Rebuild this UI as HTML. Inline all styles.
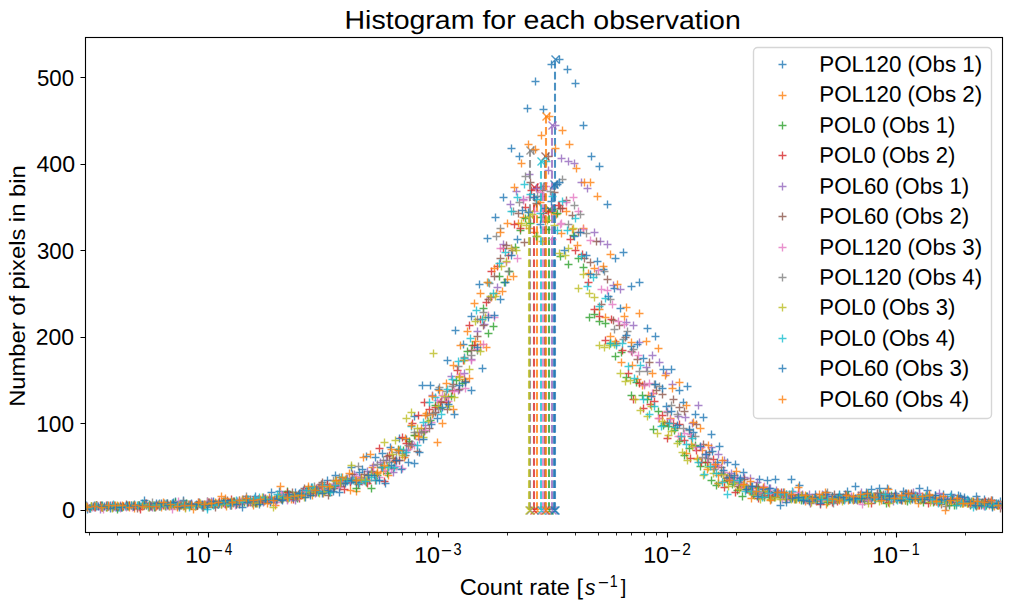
<!DOCTYPE html>
<html><head><meta charset="utf-8"><title>Histogram for each observation</title>
<style>html,body{margin:0;padding:0;background:#fff}svg{display:block}text{fill:#000}</style></head>
<body>
<svg width="1011" height="611" viewBox="0 0 1011 611">
<rect width="1011" height="611" fill="#fff"/>
<defs><clipPath id="ax"><rect x="85.03" y="37.33" width="916.64" height="495.66"/></clipPath></defs>
<g clip-path="url(#ax)" fill="none" stroke-opacity="0.8">
<path d="M82.5 505.5h8m-4-4v8M90.5 505.5h8m-4-4v8M98.5 505.5h8m-4-4v8M106.5 505.5h8m-4-4v8M114.5 507.5h8m-4-4v8M122.5 505.5h8m-4-4v8M130.5 504.5h8m-4-4v8M138.5 505.5h8m-4-4v8M146.5 505.5h8m-4-4v8M155.5 503.5h8m-4-4v8M163.5 503.5h8m-4-4v8M171.5 501.5h8m-4-4v8M179.5 500.5h8m-4-4v8M187.5 503.5h8m-4-4v8M195.5 502.5h8m-4-4v8M203.5 507.5h8m-4-4v8M211.5 503.5h8m-4-4v8M219.5 501.5h8m-4-4v8M227.5 505.5h8m-4-4v8M235.5 500.5h8m-4-4v8M243.5 499.5h8m-4-4v8M251.5 496.5h8m-4-4v8M259.5 497.5h8m-4-4v8M267.5 492.5h8m-4-4v8M275.5 491.5h8m-4-4v8M283.5 499.5h8m-4-4v8M291.5 492.5h8m-4-4v8M299.5 490.5h8m-4-4v8M307.5 487.5h8m-4-4v8M315.5 487.5h8m-4-4v8M323.5 480.5h8m-4-4v8M331.5 475.5h8m-4-4v8M339.5 483.5h8m-4-4v8M347.5 467.5h8m-4-4v8M355.5 472.5h8m-4-4v8M362.5 456.5h8m-4-4v8M371.5 457.5h8m-4-4v8M378.5 453.5h8m-4-4v8M386.5 447.5h8m-4-4v8M395.5 438.5h8m-4-4v8M402.5 439.5h8m-4-4v8M410.5 416.5h8m-4-4v8M418.5 385.5h8m-4-4v8M426.5 385.5h8m-4-4v8M434.5 389.5h8m-4-4v8M443.5 360.5h8m-4-4v8M451.5 330.5h8m-4-4v8M459.5 344.5h8m-4-4v8M467.5 316.5h8m-4-4v8M475.5 284.5h8m-4-4v8M483.5 238.5h8m-4-4v8M491.5 217.5h8m-4-4v8M499.5 197.5h8m-4-4v8M507.5 148.5h8m-4-4v8M515.5 156.5h8m-4-4v8M523.5 108.5h8m-4-4v8M531.5 81.5h8m-4-4v8M539.5 109.5h8m-4-4v8M547.5 64.5h8m-4-4v8M555.5 59.5h8m-4-4v8M563.5 69.5h8m-4-4v8M571.5 83.5h8m-4-4v8M579.5 125.5h8m-4-4v8M587.5 156.5h8m-4-4v8M595.5 166.5h8m-4-4v8M603.5 204.5h8m-4-4v8M611.5 258.5h8m-4-4v8M619.5 252.5h8m-4-4v8M627.5 286.5h8m-4-4v8M635.5 282.5h8m-4-4v8M643.5 328.5h8m-4-4v8M651.5 336.5h8m-4-4v8M659.5 369.5h8m-4-4v8M667.5 369.5h8m-4-4v8M675.5 390.5h8m-4-4v8M683.5 386.5h8m-4-4v8M691.5 414.5h8m-4-4v8M699.5 417.5h8m-4-4v8M707.5 434.5h8m-4-4v8M715.5 446.5h8m-4-4v8M723.5 462.5h8m-4-4v8M731.5 464.5h8m-4-4v8M739.5 472.5h8m-4-4v8M747.5 486.5h8m-4-4v8M755.5 479.5h8m-4-4v8M763.5 480.5h8m-4-4v8M771.5 479.5h8m-4-4v8M779.5 492.5h8m-4-4v8M787.5 479.5h8m-4-4v8M795.5 485.5h8m-4-4v8M803.5 496.5h8m-4-4v8M811.5 494.5h8m-4-4v8M819.5 495.5h8m-4-4v8M827.5 499.5h8m-4-4v8M835.5 494.5h8m-4-4v8M843.5 491.5h8m-4-4v8M851.5 486.5h8m-4-4v8M859.5 498.5h8m-4-4v8M867.5 489.5h8m-4-4v8M875.5 488.5h8m-4-4v8M883.5 488.5h8m-4-4v8M891.5 493.5h8m-4-4v8M899.5 491.5h8m-4-4v8M907.5 494.5h8m-4-4v8M915.5 488.5h8m-4-4v8M923.5 490.5h8m-4-4v8M931.5 495.5h8m-4-4v8M939.5 494.5h8m-4-4v8M947.5 494.5h8m-4-4v8M956.5 496.5h8m-4-4v8M964.5 500.5h8m-4-4v8M972.5 496.5h8m-4-4v8M980.5 499.5h8m-4-4v8M988.5 500.5h8m-4-4v8M996.5 501.5h8m-4-4v8" stroke="#1f77b4" stroke-width="1.39"/>
<path d="M555.0 510.00V59.00" stroke="#1f77b4" stroke-width="2.08" stroke-dasharray="7.71 3.33"/>
<path d="M551.5 506.5l8 8m0-8l-8 8M551.5 55.5l8 8m0-8l-8 8" stroke="#1f77b4" stroke-width="1.39"/>
<path d="M76.5 508.5h8m-4-4v8M81.5 507.5h8m-4-4v8M87.5 506.5h8m-4-4v8M92.5 505.5h8m-4-4v8M97.5 506.5h8m-4-4v8M103.5 507.5h8m-4-4v8M108.5 507.5h8m-4-4v8M114.5 506.5h8m-4-4v8M119.5 506.5h8m-4-4v8M125.5 505.5h8m-4-4v8M130.5 508.5h8m-4-4v8M135.5 507.5h8m-4-4v8M141.5 503.5h8m-4-4v8M146.5 505.5h8m-4-4v8M152.5 505.5h8m-4-4v8M157.5 507.5h8m-4-4v8M162.5 504.5h8m-4-4v8M168.5 504.5h8m-4-4v8M173.5 507.5h8m-4-4v8M179.5 506.5h8m-4-4v8M184.5 504.5h8m-4-4v8M189.5 509.5h8m-4-4v8M195.5 503.5h8m-4-4v8M200.5 505.5h8m-4-4v8M206.5 503.5h8m-4-4v8M211.5 502.5h8m-4-4v8M217.5 496.5h8m-4-4v8M222.5 506.5h8m-4-4v8M227.5 505.5h8m-4-4v8M233.5 503.5h8m-4-4v8M238.5 499.5h8m-4-4v8M244.5 501.5h8m-4-4v8M249.5 505.5h8m-4-4v8M254.5 499.5h8m-4-4v8M260.5 501.5h8m-4-4v8M265.5 497.5h8m-4-4v8M271.5 505.5h8m-4-4v8M276.5 496.5h8m-4-4v8M281.5 494.5h8m-4-4v8M287.5 499.5h8m-4-4v8M292.5 495.5h8m-4-4v8M298.5 493.5h8m-4-4v8M303.5 493.5h8m-4-4v8M308.5 495.5h8m-4-4v8M314.5 488.5h8m-4-4v8M319.5 493.5h8m-4-4v8M325.5 488.5h8m-4-4v8M330.5 485.5h8m-4-4v8M336.5 483.5h8m-4-4v8M341.5 480.5h8m-4-4v8M346.5 490.5h8m-4-4v8M352.5 491.5h8m-4-4v8M357.5 477.5h8m-4-4v8M363.5 475.5h8m-4-4v8M368.5 467.5h8m-4-4v8M373.5 473.5h8m-4-4v8M379.5 471.5h8m-4-4v8M384.5 475.5h8m-4-4v8M390.5 461.5h8m-4-4v8M395.5 450.5h8m-4-4v8M400.5 457.5h8m-4-4v8M406.5 446.5h8m-4-4v8M411.5 435.5h8m-4-4v8M417.5 428.5h8m-4-4v8M422.5 413.5h8m-4-4v8M428.5 414.5h8m-4-4v8M433.5 442.5h8m-4-4v8M438.5 423.5h8m-4-4v8M444.5 397.5h8m-4-4v8M449.5 409.5h8m-4-4v8M455.5 376.5h8m-4-4v8M460.5 379.5h8m-4-4v8M465.5 378.5h8m-4-4v8M471.5 341.5h8m-4-4v8M476.5 344.5h8m-4-4v8M482.5 347.5h8m-4-4v8M487.5 297.5h8m-4-4v8M492.5 293.5h8m-4-4v8M498.5 291.5h8m-4-4v8M503.5 279.5h8m-4-4v8M509.5 276.5h8m-4-4v8M514.5 223.5h8m-4-4v8M519.5 217.5h8m-4-4v8M525.5 228.5h8m-4-4v8M530.5 232.5h8m-4-4v8M536.5 202.5h8m-4-4v8M541.5 221.5h8m-4-4v8M547.5 212.5h8m-4-4v8M552.5 214.5h8m-4-4v8M557.5 233.5h8m-4-4v8M562.5 211.5h8m-4-4v8M568.5 229.5h8m-4-4v8M573.5 245.5h8m-4-4v8M579.5 228.5h8m-4-4v8M584.5 273.5h8m-4-4v8M590.5 268.5h8m-4-4v8M595.5 309.5h8m-4-4v8M601.5 317.5h8m-4-4v8M606.5 336.5h8m-4-4v8M611.5 341.5h8m-4-4v8M617.5 362.5h8m-4-4v8M622.5 307.5h8m-4-4v8M628.5 365.5h8m-4-4v8M633.5 379.5h8m-4-4v8M638.5 385.5h8m-4-4v8M644.5 395.5h8m-4-4v8M649.5 393.5h8m-4-4v8M655.5 418.5h8m-4-4v8M660.5 423.5h8m-4-4v8M666.5 418.5h8m-4-4v8M671.5 428.5h8m-4-4v8M676.5 436.5h8m-4-4v8M682.5 453.5h8m-4-4v8M687.5 444.5h8m-4-4v8M693.5 458.5h8m-4-4v8M698.5 450.5h8m-4-4v8M703.5 469.5h8m-4-4v8M709.5 467.5h8m-4-4v8M714.5 475.5h8m-4-4v8M720.5 481.5h8m-4-4v8M725.5 475.5h8m-4-4v8M730.5 477.5h8m-4-4v8M736.5 487.5h8m-4-4v8M741.5 489.5h8m-4-4v8M747.5 498.5h8m-4-4v8M752.5 488.5h8m-4-4v8M758.5 493.5h8m-4-4v8M763.5 491.5h8m-4-4v8M768.5 496.5h8m-4-4v8M774.5 492.5h8m-4-4v8M779.5 495.5h8m-4-4v8M785.5 495.5h8m-4-4v8M790.5 499.5h8m-4-4v8M795.5 499.5h8m-4-4v8M801.5 501.5h8m-4-4v8M806.5 499.5h8m-4-4v8M812.5 501.5h8m-4-4v8M817.5 498.5h8m-4-4v8M822.5 504.5h8m-4-4v8M828.5 496.5h8m-4-4v8M833.5 498.5h8m-4-4v8M839.5 499.5h8m-4-4v8M844.5 500.5h8m-4-4v8M849.5 500.5h8m-4-4v8M855.5 499.5h8m-4-4v8M860.5 496.5h8m-4-4v8M866.5 497.5h8m-4-4v8M871.5 497.5h8m-4-4v8M877.5 495.5h8m-4-4v8M882.5 496.5h8m-4-4v8M887.5 496.5h8m-4-4v8M893.5 498.5h8m-4-4v8M898.5 500.5h8m-4-4v8M904.5 494.5h8m-4-4v8M909.5 495.5h8m-4-4v8M914.5 503.5h8m-4-4v8M920.5 499.5h8m-4-4v8M925.5 494.5h8m-4-4v8M931.5 497.5h8m-4-4v8M936.5 498.5h8m-4-4v8M941.5 510.5h8m-4-4v8M947.5 502.5h8m-4-4v8M952.5 504.5h8m-4-4v8M958.5 503.5h8m-4-4v8M963.5 503.5h8m-4-4v8M969.5 501.5h8m-4-4v8M974.5 505.5h8m-4-4v8M979.5 504.5h8m-4-4v8M985.5 505.5h8m-4-4v8M990.5 506.5h8m-4-4v8M996.5 504.5h8m-4-4v8M1001.5 503.5h8m-4-4v8" stroke="#ff7f0e" stroke-width="1.39"/>
<path d="M537.0 510.00V202.00" stroke="#ff7f0e" stroke-width="2.08" stroke-dasharray="7.71 3.33"/>
<path d="M533.5 506.5l8 8m0-8l-8 8M533.5 198.5l8 8m0-8l-8 8" stroke="#ff7f0e" stroke-width="1.39"/>
<path d="M76.5 506.5h8m-4-4v8M81.5 507.5h8m-4-4v8M87.5 506.5h8m-4-4v8M92.5 505.5h8m-4-4v8M97.5 505.5h8m-4-4v8M102.5 507.5h8m-4-4v8M108.5 507.5h8m-4-4v8M113.5 509.5h8m-4-4v8M118.5 507.5h8m-4-4v8M124.5 506.5h8m-4-4v8M129.5 506.5h8m-4-4v8M134.5 505.5h8m-4-4v8M140.5 505.5h8m-4-4v8M145.5 504.5h8m-4-4v8M150.5 507.5h8m-4-4v8M155.5 506.5h8m-4-4v8M161.5 506.5h8m-4-4v8M166.5 504.5h8m-4-4v8M171.5 502.5h8m-4-4v8M177.5 505.5h8m-4-4v8M182.5 503.5h8m-4-4v8M187.5 505.5h8m-4-4v8M193.5 505.5h8m-4-4v8M198.5 505.5h8m-4-4v8M203.5 501.5h8m-4-4v8M208.5 504.5h8m-4-4v8M214.5 504.5h8m-4-4v8M219.5 502.5h8m-4-4v8M224.5 503.5h8m-4-4v8M230.5 501.5h8m-4-4v8M235.5 503.5h8m-4-4v8M240.5 502.5h8m-4-4v8M246.5 501.5h8m-4-4v8M251.5 503.5h8m-4-4v8M256.5 502.5h8m-4-4v8M261.5 499.5h8m-4-4v8M267.5 499.5h8m-4-4v8M272.5 500.5h8m-4-4v8M277.5 499.5h8m-4-4v8M283.5 491.5h8m-4-4v8M288.5 497.5h8m-4-4v8M293.5 498.5h8m-4-4v8M299.5 493.5h8m-4-4v8M304.5 488.5h8m-4-4v8M309.5 492.5h8m-4-4v8M314.5 492.5h8m-4-4v8M320.5 491.5h8m-4-4v8M325.5 492.5h8m-4-4v8M330.5 486.5h8m-4-4v8M336.5 480.5h8m-4-4v8M341.5 481.5h8m-4-4v8M346.5 481.5h8m-4-4v8M352.5 488.5h8m-4-4v8M357.5 480.5h8m-4-4v8M362.5 482.5h8m-4-4v8M367.5 488.5h8m-4-4v8M373.5 475.5h8m-4-4v8M378.5 467.5h8m-4-4v8M383.5 473.5h8m-4-4v8M389.5 468.5h8m-4-4v8M394.5 449.5h8m-4-4v8M399.5 450.5h8m-4-4v8M405.5 441.5h8m-4-4v8M410.5 435.5h8m-4-4v8M415.5 432.5h8m-4-4v8M420.5 431.5h8m-4-4v8M426.5 420.5h8m-4-4v8M431.5 405.5h8m-4-4v8M436.5 408.5h8m-4-4v8M442.5 402.5h8m-4-4v8M447.5 396.5h8m-4-4v8M452.5 380.5h8m-4-4v8M458.5 383.5h8m-4-4v8M463.5 351.5h8m-4-4v8M468.5 345.5h8m-4-4v8M473.5 350.5h8m-4-4v8M479.5 308.5h8m-4-4v8M484.5 333.5h8m-4-4v8M489.5 326.5h8m-4-4v8M495.5 276.5h8m-4-4v8M500.5 282.5h8m-4-4v8M505.5 271.5h8m-4-4v8M511.5 247.5h8m-4-4v8M516.5 230.5h8m-4-4v8M521.5 218.5h8m-4-4v8M526.5 223.5h8m-4-4v8M532.5 236.5h8m-4-4v8M537.5 217.5h8m-4-4v8M542.5 229.5h8m-4-4v8M548.5 209.5h8m-4-4v8M553.5 213.5h8m-4-4v8M556.5 256.5h8m-4-4v8M564.5 264.5h8m-4-4v8M569.5 235.5h8m-4-4v8M574.5 258.5h8m-4-4v8M579.5 267.5h8m-4-4v8M585.5 317.5h8m-4-4v8M590.5 314.5h8m-4-4v8M595.5 321.5h8m-4-4v8M601.5 323.5h8m-4-4v8M606.5 343.5h8m-4-4v8M611.5 356.5h8m-4-4v8M617.5 352.5h8m-4-4v8M622.5 377.5h8m-4-4v8M627.5 395.5h8m-4-4v8M632.5 382.5h8m-4-4v8M638.5 395.5h8m-4-4v8M643.5 399.5h8m-4-4v8M649.5 429.5h8m-4-4v8M654.5 411.5h8m-4-4v8M659.5 425.5h8m-4-4v8M664.5 426.5h8m-4-4v8M670.5 430.5h8m-4-4v8M675.5 441.5h8m-4-4v8M680.5 455.5h8m-4-4v8M685.5 448.5h8m-4-4v8M691.5 445.5h8m-4-4v8M696.5 466.5h8m-4-4v8M701.5 462.5h8m-4-4v8M707.5 480.5h8m-4-4v8M712.5 485.5h8m-4-4v8M717.5 473.5h8m-4-4v8M723.5 480.5h8m-4-4v8M728.5 484.5h8m-4-4v8M733.5 490.5h8m-4-4v8M738.5 496.5h8m-4-4v8M744.5 488.5h8m-4-4v8M749.5 494.5h8m-4-4v8M754.5 487.5h8m-4-4v8M760.5 497.5h8m-4-4v8M765.5 497.5h8m-4-4v8M770.5 497.5h8m-4-4v8M776.5 497.5h8m-4-4v8M781.5 496.5h8m-4-4v8M786.5 498.5h8m-4-4v8M791.5 499.5h8m-4-4v8M797.5 500.5h8m-4-4v8M802.5 496.5h8m-4-4v8M807.5 499.5h8m-4-4v8M813.5 500.5h8m-4-4v8M818.5 499.5h8m-4-4v8M823.5 502.5h8m-4-4v8M829.5 500.5h8m-4-4v8M834.5 499.5h8m-4-4v8M839.5 499.5h8m-4-4v8M844.5 495.5h8m-4-4v8M850.5 499.5h8m-4-4v8M855.5 498.5h8m-4-4v8M860.5 501.5h8m-4-4v8M866.5 495.5h8m-4-4v8M871.5 499.5h8m-4-4v8M876.5 493.5h8m-4-4v8M882.5 503.5h8m-4-4v8M887.5 495.5h8m-4-4v8M892.5 499.5h8m-4-4v8M897.5 499.5h8m-4-4v8M903.5 501.5h8m-4-4v8M908.5 497.5h8m-4-4v8M913.5 496.5h8m-4-4v8M919.5 502.5h8m-4-4v8M924.5 499.5h8m-4-4v8M929.5 502.5h8m-4-4v8M935.5 500.5h8m-4-4v8M940.5 500.5h8m-4-4v8M945.5 505.5h8m-4-4v8M950.5 505.5h8m-4-4v8M956.5 503.5h8m-4-4v8M961.5 502.5h8m-4-4v8M966.5 505.5h8m-4-4v8M972.5 504.5h8m-4-4v8M977.5 503.5h8m-4-4v8M982.5 505.5h8m-4-4v8M988.5 506.5h8m-4-4v8M993.5 505.5h8m-4-4v8M998.5 504.5h8m-4-4v8M1003.5 505.5h8m-4-4v8" stroke="#2ca02c" stroke-width="1.39"/>
<path d="M549.0 510.00V209.00" stroke="#2ca02c" stroke-width="2.08" stroke-dasharray="7.71 3.33"/>
<path d="M545.5 506.5l8 8m0-8l-8 8M545.5 205.5l8 8m0-8l-8 8" stroke="#2ca02c" stroke-width="1.39"/>
<path d="M79.5 507.5h8m-4-4v8M85.5 508.5h8m-4-4v8M91.5 507.5h8m-4-4v8M96.5 505.5h8m-4-4v8M102.5 505.5h8m-4-4v8M108.5 505.5h8m-4-4v8M113.5 506.5h8m-4-4v8M119.5 506.5h8m-4-4v8M125.5 505.5h8m-4-4v8M130.5 506.5h8m-4-4v8M136.5 509.5h8m-4-4v8M142.5 503.5h8m-4-4v8M147.5 506.5h8m-4-4v8M153.5 505.5h8m-4-4v8M159.5 505.5h8m-4-4v8M164.5 505.5h8m-4-4v8M170.5 505.5h8m-4-4v8M176.5 505.5h8m-4-4v8M181.5 507.5h8m-4-4v8M187.5 504.5h8m-4-4v8M193.5 505.5h8m-4-4v8M198.5 505.5h8m-4-4v8M204.5 502.5h8m-4-4v8M210.5 504.5h8m-4-4v8M215.5 501.5h8m-4-4v8M221.5 504.5h8m-4-4v8M227.5 499.5h8m-4-4v8M232.5 504.5h8m-4-4v8M238.5 503.5h8m-4-4v8M244.5 502.5h8m-4-4v8M249.5 500.5h8m-4-4v8M255.5 502.5h8m-4-4v8M261.5 498.5h8m-4-4v8M266.5 500.5h8m-4-4v8M272.5 498.5h8m-4-4v8M278.5 499.5h8m-4-4v8M283.5 492.5h8m-4-4v8M289.5 499.5h8m-4-4v8M295.5 498.5h8m-4-4v8M300.5 490.5h8m-4-4v8M306.5 492.5h8m-4-4v8M312.5 488.5h8m-4-4v8M317.5 484.5h8m-4-4v8M323.5 484.5h8m-4-4v8M329.5 488.5h8m-4-4v8M334.5 483.5h8m-4-4v8M340.5 489.5h8m-4-4v8M346.5 482.5h8m-4-4v8M351.5 480.5h8m-4-4v8M357.5 480.5h8m-4-4v8M363.5 483.5h8m-4-4v8M368.5 472.5h8m-4-4v8M375.5 448.5h8m-4-4v8M380.5 481.5h8m-4-4v8M385.5 455.5h8m-4-4v8M391.5 460.5h8m-4-4v8M398.5 437.5h8m-4-4v8M402.5 443.5h8m-4-4v8M408.5 423.5h8m-4-4v8M414.5 415.5h8m-4-4v8M420.5 402.5h8m-4-4v8M425.5 409.5h8m-4-4v8M431.5 407.5h8m-4-4v8M436.5 402.5h8m-4-4v8M442.5 402.5h8m-4-4v8M448.5 390.5h8m-4-4v8M453.5 370.5h8m-4-4v8M459.5 360.5h8m-4-4v8M465.5 325.5h8m-4-4v8M470.5 345.5h8m-4-4v8M476.5 319.5h8m-4-4v8M482.5 302.5h8m-4-4v8M487.5 271.5h8m-4-4v8M493.5 266.5h8m-4-4v8M499.5 248.5h8m-4-4v8M504.5 255.5h8m-4-4v8M510.5 224.5h8m-4-4v8M516.5 228.5h8m-4-4v8M521.5 207.5h8m-4-4v8M527.5 190.5h8m-4-4v8M533.5 187.5h8m-4-4v8M539.5 213.5h8m-4-4v8M544.5 211.5h8m-4-4v8M555.5 205.5h8m-4-4v8M554.5 205.5h8m-4-4v8M558.5 208.5h8m-4-4v8M566.5 239.5h8m-4-4v8M571.5 250.5h8m-4-4v8M578.5 254.5h8m-4-4v8M584.5 282.5h8m-4-4v8M590.5 309.5h8m-4-4v8M595.5 316.5h8m-4-4v8M601.5 340.5h8m-4-4v8M607.5 319.5h8m-4-4v8M612.5 343.5h8m-4-4v8M618.5 350.5h8m-4-4v8M624.5 373.5h8m-4-4v8M629.5 399.5h8m-4-4v8M635.5 383.5h8m-4-4v8M639.5 408.5h8m-4-4v8M646.5 404.5h8m-4-4v8M650.5 401.5h8m-4-4v8M658.5 415.5h8m-4-4v8M663.5 438.5h8m-4-4v8M669.5 423.5h8m-4-4v8M675.5 424.5h8m-4-4v8M680.5 440.5h8m-4-4v8M686.5 458.5h8m-4-4v8M692.5 450.5h8m-4-4v8M697.5 462.5h8m-4-4v8M703.5 462.5h8m-4-4v8M709.5 459.5h8m-4-4v8M714.5 483.5h8m-4-4v8M720.5 487.5h8m-4-4v8M726.5 478.5h8m-4-4v8M731.5 492.5h8m-4-4v8M737.5 484.5h8m-4-4v8M743.5 489.5h8m-4-4v8M748.5 493.5h8m-4-4v8M754.5 498.5h8m-4-4v8M760.5 495.5h8m-4-4v8M765.5 495.5h8m-4-4v8M771.5 494.5h8m-4-4v8M777.5 492.5h8m-4-4v8M782.5 499.5h8m-4-4v8M788.5 495.5h8m-4-4v8M794.5 495.5h8m-4-4v8M799.5 499.5h8m-4-4v8M805.5 500.5h8m-4-4v8M811.5 497.5h8m-4-4v8M816.5 504.5h8m-4-4v8M822.5 498.5h8m-4-4v8M828.5 502.5h8m-4-4v8M833.5 501.5h8m-4-4v8M839.5 499.5h8m-4-4v8M845.5 499.5h8m-4-4v8M850.5 499.5h8m-4-4v8M856.5 499.5h8m-4-4v8M862.5 494.5h8m-4-4v8M867.5 503.5h8m-4-4v8M873.5 493.5h8m-4-4v8M879.5 495.5h8m-4-4v8M884.5 502.5h8m-4-4v8M890.5 496.5h8m-4-4v8M896.5 499.5h8m-4-4v8M901.5 500.5h8m-4-4v8M907.5 498.5h8m-4-4v8M913.5 497.5h8m-4-4v8M918.5 498.5h8m-4-4v8M924.5 503.5h8m-4-4v8M930.5 501.5h8m-4-4v8M935.5 502.5h8m-4-4v8M941.5 499.5h8m-4-4v8M947.5 499.5h8m-4-4v8M952.5 502.5h8m-4-4v8M958.5 500.5h8m-4-4v8M964.5 503.5h8m-4-4v8M969.5 502.5h8m-4-4v8M975.5 505.5h8m-4-4v8M981.5 501.5h8m-4-4v8M986.5 502.5h8m-4-4v8M992.5 504.5h8m-4-4v8M998.5 507.5h8m-4-4v8M1003.5 504.5h8m-4-4v8" stroke="#d62728" stroke-width="1.39"/>
<path d="M534.0 510.00V187.00" stroke="#d62728" stroke-width="2.08" stroke-dasharray="7.71 3.33"/>
<path d="M530.5 506.5l8 8m0-8l-8 8M530.5 183.5l8 8m0-8l-8 8" stroke="#d62728" stroke-width="1.39"/>
<path d="M77.5 506.5h8m-4-4v8M83.5 506.5h8m-4-4v8M90.5 507.5h8m-4-4v8M96.5 509.5h8m-4-4v8M103.5 505.5h8m-4-4v8M109.5 507.5h8m-4-4v8M116.5 505.5h8m-4-4v8M122.5 506.5h8m-4-4v8M129.5 506.5h8m-4-4v8M135.5 506.5h8m-4-4v8M142.5 505.5h8m-4-4v8M148.5 507.5h8m-4-4v8M155.5 506.5h8m-4-4v8M161.5 504.5h8m-4-4v8M168.5 503.5h8m-4-4v8M174.5 505.5h8m-4-4v8M181.5 505.5h8m-4-4v8M187.5 504.5h8m-4-4v8M194.5 502.5h8m-4-4v8M200.5 505.5h8m-4-4v8M207.5 501.5h8m-4-4v8M213.5 504.5h8m-4-4v8M220.5 503.5h8m-4-4v8M226.5 504.5h8m-4-4v8M233.5 501.5h8m-4-4v8M239.5 499.5h8m-4-4v8M246.5 502.5h8m-4-4v8M252.5 500.5h8m-4-4v8M259.5 502.5h8m-4-4v8M265.5 499.5h8m-4-4v8M272.5 498.5h8m-4-4v8M278.5 495.5h8m-4-4v8M285.5 497.5h8m-4-4v8M291.5 500.5h8m-4-4v8M298.5 493.5h8m-4-4v8M304.5 493.5h8m-4-4v8M311.5 493.5h8m-4-4v8M317.5 486.5h8m-4-4v8M324.5 488.5h8m-4-4v8M330.5 484.5h8m-4-4v8M337.5 482.5h8m-4-4v8M343.5 478.5h8m-4-4v8M350.5 474.5h8m-4-4v8M356.5 478.5h8m-4-4v8M363.5 471.5h8m-4-4v8M369.5 465.5h8m-4-4v8M376.5 462.5h8m-4-4v8M382.5 460.5h8m-4-4v8M389.5 472.5h8m-4-4v8M395.5 460.5h8m-4-4v8M402.5 450.5h8m-4-4v8M408.5 444.5h8m-4-4v8M415.5 439.5h8m-4-4v8M421.5 425.5h8m-4-4v8M428.5 395.5h8m-4-4v8M434.5 409.5h8m-4-4v8M441.5 397.5h8m-4-4v8M447.5 376.5h8m-4-4v8M454.5 390.5h8m-4-4v8M460.5 373.5h8m-4-4v8M467.5 359.5h8m-4-4v8M473.5 331.5h8m-4-4v8M480.5 324.5h8m-4-4v8M486.5 297.5h8m-4-4v8M493.5 287.5h8m-4-4v8M499.5 244.5h8m-4-4v8M506.5 204.5h8m-4-4v8M512.5 191.5h8m-4-4v8M519.5 199.5h8m-4-4v8M525.5 174.5h8m-4-4v8M532.5 188.5h8m-4-4v8M538.5 196.5h8m-4-4v8M544.5 170.5h8m-4-4v8M551.5 125.5h8m-4-4v8M557.5 158.5h8m-4-4v8M564.5 161.5h8m-4-4v8M570.5 163.5h8m-4-4v8M577.5 182.5h8m-4-4v8M583.5 188.5h8m-4-4v8M590.5 232.5h8m-4-4v8M596.5 241.5h8m-4-4v8M603.5 244.5h8m-4-4v8M609.5 285.5h8m-4-4v8M616.5 289.5h8m-4-4v8M622.5 322.5h8m-4-4v8M629.5 325.5h8m-4-4v8M635.5 342.5h8m-4-4v8M642.5 367.5h8m-4-4v8M648.5 355.5h8m-4-4v8M655.5 362.5h8m-4-4v8M662.5 373.5h8m-4-4v8M668.5 384.5h8m-4-4v8M674.5 416.5h8m-4-4v8M681.5 417.5h8m-4-4v8M688.5 423.5h8m-4-4v8M694.5 405.5h8m-4-4v8M701.5 454.5h8m-4-4v8M707.5 447.5h8m-4-4v8M714.5 454.5h8m-4-4v8M720.5 460.5h8m-4-4v8M727.5 473.5h8m-4-4v8M733.5 477.5h8m-4-4v8M740.5 477.5h8m-4-4v8M746.5 478.5h8m-4-4v8M753.5 482.5h8m-4-4v8M759.5 488.5h8m-4-4v8M766.5 488.5h8m-4-4v8M772.5 490.5h8m-4-4v8M779.5 494.5h8m-4-4v8M785.5 497.5h8m-4-4v8M792.5 498.5h8m-4-4v8M798.5 494.5h8m-4-4v8M805.5 494.5h8m-4-4v8M811.5 500.5h8m-4-4v8M818.5 494.5h8m-4-4v8M824.5 496.5h8m-4-4v8M831.5 498.5h8m-4-4v8M837.5 499.5h8m-4-4v8M844.5 497.5h8m-4-4v8M850.5 499.5h8m-4-4v8M857.5 492.5h8m-4-4v8M863.5 500.5h8m-4-4v8M870.5 496.5h8m-4-4v8M876.5 498.5h8m-4-4v8M883.5 493.5h8m-4-4v8M889.5 501.5h8m-4-4v8M896.5 498.5h8m-4-4v8M902.5 497.5h8m-4-4v8M909.5 492.5h8m-4-4v8M915.5 493.5h8m-4-4v8M922.5 494.5h8m-4-4v8M928.5 499.5h8m-4-4v8M935.5 493.5h8m-4-4v8M941.5 499.5h8m-4-4v8M948.5 499.5h8m-4-4v8M954.5 499.5h8m-4-4v8M961.5 501.5h8m-4-4v8M967.5 502.5h8m-4-4v8M974.5 501.5h8m-4-4v8M980.5 506.5h8m-4-4v8M987.5 500.5h8m-4-4v8M993.5 504.5h8m-4-4v8M1000.5 505.5h8m-4-4v8" stroke="#9467bd" stroke-width="1.39"/>
<path d="M552.0 510.00V125.00" stroke="#9467bd" stroke-width="2.08" stroke-dasharray="7.71 3.33"/>
<path d="M548.5 506.5l8 8m0-8l-8 8M548.5 121.5l8 8m0-8l-8 8" stroke="#9467bd" stroke-width="1.39"/>
<path d="M80.5 507.5h8m-4-4v8M86.5 508.5h8m-4-4v8M92.5 505.5h8m-4-4v8M98.5 507.5h8m-4-4v8M104.5 506.5h8m-4-4v8M110.5 505.5h8m-4-4v8M116.5 506.5h8m-4-4v8M122.5 504.5h8m-4-4v8M127.5 505.5h8m-4-4v8M133.5 508.5h8m-4-4v8M139.5 505.5h8m-4-4v8M145.5 507.5h8m-4-4v8M151.5 507.5h8m-4-4v8M157.5 505.5h8m-4-4v8M163.5 503.5h8m-4-4v8M169.5 504.5h8m-4-4v8M175.5 505.5h8m-4-4v8M181.5 505.5h8m-4-4v8M187.5 505.5h8m-4-4v8M193.5 505.5h8m-4-4v8M199.5 507.5h8m-4-4v8M205.5 502.5h8m-4-4v8M211.5 507.5h8m-4-4v8M217.5 504.5h8m-4-4v8M223.5 500.5h8m-4-4v8M229.5 501.5h8m-4-4v8M235.5 504.5h8m-4-4v8M241.5 499.5h8m-4-4v8M246.5 499.5h8m-4-4v8M252.5 503.5h8m-4-4v8M258.5 500.5h8m-4-4v8M264.5 500.5h8m-4-4v8M270.5 499.5h8m-4-4v8M276.5 498.5h8m-4-4v8M282.5 497.5h8m-4-4v8M288.5 492.5h8m-4-4v8M294.5 494.5h8m-4-4v8M300.5 488.5h8m-4-4v8M306.5 493.5h8m-4-4v8M312.5 492.5h8m-4-4v8M318.5 482.5h8m-4-4v8M324.5 495.5h8m-4-4v8M330.5 488.5h8m-4-4v8M336.5 486.5h8m-4-4v8M342.5 480.5h8m-4-4v8M348.5 474.5h8m-4-4v8M354.5 484.5h8m-4-4v8M360.5 474.5h8m-4-4v8M365.5 480.5h8m-4-4v8M371.5 480.5h8m-4-4v8M377.5 467.5h8m-4-4v8M383.5 456.5h8m-4-4v8M389.5 458.5h8m-4-4v8M395.5 460.5h8m-4-4v8M401.5 455.5h8m-4-4v8M407.5 444.5h8m-4-4v8M413.5 451.5h8m-4-4v8M419.5 432.5h8m-4-4v8M425.5 428.5h8m-4-4v8M431.5 412.5h8m-4-4v8M437.5 401.5h8m-4-4v8M443.5 409.5h8m-4-4v8M449.5 384.5h8m-4-4v8M455.5 389.5h8m-4-4v8M461.5 381.5h8m-4-4v8M467.5 350.5h8m-4-4v8M473.5 336.5h8m-4-4v8M479.5 325.5h8m-4-4v8M484.5 299.5h8m-4-4v8M490.5 276.5h8m-4-4v8M496.5 258.5h8m-4-4v8M502.5 245.5h8m-4-4v8M508.5 250.5h8m-4-4v8M514.5 213.5h8m-4-4v8M520.5 242.5h8m-4-4v8M526.5 182.5h8m-4-4v8M532.5 203.5h8m-4-4v8M538.5 190.5h8m-4-4v8M544.5 156.5h8m-4-4v8M550.5 192.5h8m-4-4v8M556.5 208.5h8m-4-4v8M562.5 200.5h8m-4-4v8M568.5 215.5h8m-4-4v8M574.5 232.5h8m-4-4v8M580.5 258.5h8m-4-4v8M586.5 262.5h8m-4-4v8M592.5 241.5h8m-4-4v8M597.5 304.5h8m-4-4v8M603.5 279.5h8m-4-4v8M609.5 320.5h8m-4-4v8M615.5 325.5h8m-4-4v8M621.5 337.5h8m-4-4v8M627.5 351.5h8m-4-4v8M633.5 359.5h8m-4-4v8M640.5 384.5h8m-4-4v8M645.5 362.5h8m-4-4v8M652.5 390.5h8m-4-4v8M658.5 394.5h8m-4-4v8M663.5 422.5h8m-4-4v8M669.5 399.5h8m-4-4v8M675.5 407.5h8m-4-4v8M680.5 411.5h8m-4-4v8M687.5 436.5h8m-4-4v8M692.5 424.5h8m-4-4v8M699.5 444.5h8m-4-4v8M705.5 452.5h8m-4-4v8M711.5 466.5h8m-4-4v8M717.5 467.5h8m-4-4v8M722.5 478.5h8m-4-4v8M728.5 480.5h8m-4-4v8M734.5 486.5h8m-4-4v8M740.5 479.5h8m-4-4v8M746.5 486.5h8m-4-4v8M752.5 486.5h8m-4-4v8M758.5 492.5h8m-4-4v8M764.5 491.5h8m-4-4v8M770.5 496.5h8m-4-4v8M776.5 497.5h8m-4-4v8M782.5 494.5h8m-4-4v8M788.5 497.5h8m-4-4v8M794.5 494.5h8m-4-4v8M800.5 499.5h8m-4-4v8M806.5 503.5h8m-4-4v8M812.5 497.5h8m-4-4v8M818.5 497.5h8m-4-4v8M824.5 500.5h8m-4-4v8M830.5 494.5h8m-4-4v8M836.5 497.5h8m-4-4v8M841.5 494.5h8m-4-4v8M847.5 497.5h8m-4-4v8M853.5 500.5h8m-4-4v8M859.5 496.5h8m-4-4v8M865.5 497.5h8m-4-4v8M871.5 496.5h8m-4-4v8M877.5 496.5h8m-4-4v8M883.5 497.5h8m-4-4v8M889.5 498.5h8m-4-4v8M895.5 499.5h8m-4-4v8M901.5 493.5h8m-4-4v8M907.5 493.5h8m-4-4v8M913.5 497.5h8m-4-4v8M919.5 498.5h8m-4-4v8M925.5 499.5h8m-4-4v8M931.5 499.5h8m-4-4v8M937.5 504.5h8m-4-4v8M943.5 501.5h8m-4-4v8M949.5 498.5h8m-4-4v8M955.5 500.5h8m-4-4v8M960.5 499.5h8m-4-4v8M966.5 503.5h8m-4-4v8M972.5 506.5h8m-4-4v8M978.5 502.5h8m-4-4v8M984.5 501.5h8m-4-4v8M990.5 503.5h8m-4-4v8M996.5 508.5h8m-4-4v8M1002.5 505.5h8m-4-4v8" stroke="#8c564b" stroke-width="1.39"/>
<path d="M545.0 510.00V156.00" stroke="#8c564b" stroke-width="2.08" stroke-dasharray="7.71 3.33"/>
<path d="M541.5 506.5l8 8m0-8l-8 8M541.5 152.5l8 8m0-8l-8 8" stroke="#8c564b" stroke-width="1.39"/>
<path d="M76.5 506.5h8m-4-4v8M82.5 506.5h8m-4-4v8M88.5 507.5h8m-4-4v8M93.5 505.5h8m-4-4v8M99.5 509.5h8m-4-4v8M105.5 506.5h8m-4-4v8M111.5 507.5h8m-4-4v8M116.5 508.5h8m-4-4v8M122.5 507.5h8m-4-4v8M128.5 507.5h8m-4-4v8M134.5 506.5h8m-4-4v8M139.5 505.5h8m-4-4v8M145.5 506.5h8m-4-4v8M151.5 505.5h8m-4-4v8M157.5 504.5h8m-4-4v8M162.5 506.5h8m-4-4v8M168.5 509.5h8m-4-4v8M174.5 501.5h8m-4-4v8M180.5 505.5h8m-4-4v8M185.5 505.5h8m-4-4v8M191.5 506.5h8m-4-4v8M197.5 504.5h8m-4-4v8M203.5 501.5h8m-4-4v8M208.5 502.5h8m-4-4v8M214.5 503.5h8m-4-4v8M220.5 503.5h8m-4-4v8M226.5 505.5h8m-4-4v8M231.5 505.5h8m-4-4v8M237.5 501.5h8m-4-4v8M243.5 503.5h8m-4-4v8M249.5 501.5h8m-4-4v8M254.5 499.5h8m-4-4v8M260.5 498.5h8m-4-4v8M266.5 501.5h8m-4-4v8M272.5 502.5h8m-4-4v8M277.5 494.5h8m-4-4v8M283.5 500.5h8m-4-4v8M289.5 496.5h8m-4-4v8M295.5 496.5h8m-4-4v8M300.5 491.5h8m-4-4v8M306.5 490.5h8m-4-4v8M312.5 489.5h8m-4-4v8M318.5 491.5h8m-4-4v8M323.5 489.5h8m-4-4v8M329.5 484.5h8m-4-4v8M335.5 487.5h8m-4-4v8M341.5 481.5h8m-4-4v8M346.5 480.5h8m-4-4v8M352.5 476.5h8m-4-4v8M358.5 481.5h8m-4-4v8M364.5 480.5h8m-4-4v8M369.5 471.5h8m-4-4v8M375.5 477.5h8m-4-4v8M381.5 470.5h8m-4-4v8M387.5 469.5h8m-4-4v8M392.5 466.5h8m-4-4v8M398.5 468.5h8m-4-4v8M404.5 449.5h8m-4-4v8M410.5 445.5h8m-4-4v8M415.5 432.5h8m-4-4v8M421.5 430.5h8m-4-4v8M427.5 422.5h8m-4-4v8M433.5 400.5h8m-4-4v8M438.5 395.5h8m-4-4v8M444.5 401.5h8m-4-4v8M450.5 391.5h8m-4-4v8M456.5 374.5h8m-4-4v8M461.5 388.5h8m-4-4v8M467.5 360.5h8m-4-4v8M473.5 349.5h8m-4-4v8M479.5 344.5h8m-4-4v8M484.5 315.5h8m-4-4v8M490.5 317.5h8m-4-4v8M496.5 248.5h8m-4-4v8M502.5 262.5h8m-4-4v8M507.5 248.5h8m-4-4v8M513.5 258.5h8m-4-4v8M519.5 200.5h8m-4-4v8M525.5 197.5h8m-4-4v8M530.5 211.5h8m-4-4v8M536.5 192.5h8m-4-4v8M542.5 186.5h8m-4-4v8M548.5 239.5h8m-4-4v8M556.5 224.5h8m-4-4v8M557.5 223.5h8m-4-4v8M562.5 202.5h8m-4-4v8M569.5 197.5h8m-4-4v8M574.5 211.5h8m-4-4v8M579.5 229.5h8m-4-4v8M586.5 240.5h8m-4-4v8M594.5 270.5h8m-4-4v8M597.5 289.5h8m-4-4v8M603.5 290.5h8m-4-4v8M608.5 304.5h8m-4-4v8M614.5 321.5h8m-4-4v8M620.5 324.5h8m-4-4v8M628.5 352.5h8m-4-4v8M634.5 355.5h8m-4-4v8M640.5 385.5h8m-4-4v8M645.5 383.5h8m-4-4v8M648.5 393.5h8m-4-4v8M654.5 418.5h8m-4-4v8M663.5 411.5h8m-4-4v8M666.5 419.5h8m-4-4v8M674.5 436.5h8m-4-4v8M680.5 433.5h8m-4-4v8M686.5 434.5h8m-4-4v8M691.5 447.5h8m-4-4v8M697.5 447.5h8m-4-4v8M703.5 458.5h8m-4-4v8M709.5 464.5h8m-4-4v8M714.5 465.5h8m-4-4v8M720.5 472.5h8m-4-4v8M726.5 479.5h8m-4-4v8M732.5 481.5h8m-4-4v8M737.5 484.5h8m-4-4v8M743.5 486.5h8m-4-4v8M749.5 490.5h8m-4-4v8M755.5 492.5h8m-4-4v8M760.5 486.5h8m-4-4v8M766.5 493.5h8m-4-4v8M772.5 493.5h8m-4-4v8M778.5 499.5h8m-4-4v8M783.5 498.5h8m-4-4v8M789.5 492.5h8m-4-4v8M795.5 492.5h8m-4-4v8M801.5 499.5h8m-4-4v8M806.5 502.5h8m-4-4v8M812.5 496.5h8m-4-4v8M818.5 500.5h8m-4-4v8M824.5 496.5h8m-4-4v8M829.5 499.5h8m-4-4v8M835.5 499.5h8m-4-4v8M841.5 499.5h8m-4-4v8M847.5 496.5h8m-4-4v8M852.5 499.5h8m-4-4v8M858.5 504.5h8m-4-4v8M864.5 500.5h8m-4-4v8M870.5 498.5h8m-4-4v8M875.5 498.5h8m-4-4v8M881.5 497.5h8m-4-4v8M887.5 498.5h8m-4-4v8M893.5 497.5h8m-4-4v8M898.5 498.5h8m-4-4v8M904.5 494.5h8m-4-4v8M910.5 498.5h8m-4-4v8M916.5 496.5h8m-4-4v8M921.5 498.5h8m-4-4v8M927.5 500.5h8m-4-4v8M933.5 502.5h8m-4-4v8M939.5 498.5h8m-4-4v8M944.5 500.5h8m-4-4v8M950.5 498.5h8m-4-4v8M956.5 502.5h8m-4-4v8M962.5 500.5h8m-4-4v8M967.5 504.5h8m-4-4v8M973.5 504.5h8m-4-4v8M979.5 505.5h8m-4-4v8M985.5 504.5h8m-4-4v8M990.5 504.5h8m-4-4v8M996.5 505.5h8m-4-4v8M1002.5 505.5h8m-4-4v8" stroke="#e377c2" stroke-width="1.39"/>
<path d="M543.0 510.00V186.00" stroke="#e377c2" stroke-width="2.08" stroke-dasharray="7.71 3.33"/>
<path d="M539.5 506.5l8 8m0-8l-8 8M539.5 182.5l8 8m0-8l-8 8" stroke="#e377c2" stroke-width="1.39"/>
<path d="M79.5 507.5h8m-4-4v8M85.5 508.5h8m-4-4v8M92.5 505.5h8m-4-4v8M98.5 507.5h8m-4-4v8M104.5 506.5h8m-4-4v8M110.5 506.5h8m-4-4v8M117.5 507.5h8m-4-4v8M123.5 506.5h8m-4-4v8M129.5 505.5h8m-4-4v8M135.5 505.5h8m-4-4v8M142.5 505.5h8m-4-4v8M148.5 502.5h8m-4-4v8M154.5 504.5h8m-4-4v8M160.5 503.5h8m-4-4v8M167.5 505.5h8m-4-4v8M173.5 505.5h8m-4-4v8M179.5 501.5h8m-4-4v8M185.5 504.5h8m-4-4v8M192.5 505.5h8m-4-4v8M198.5 507.5h8m-4-4v8M204.5 503.5h8m-4-4v8M210.5 504.5h8m-4-4v8M217.5 503.5h8m-4-4v8M223.5 503.5h8m-4-4v8M229.5 503.5h8m-4-4v8M235.5 502.5h8m-4-4v8M242.5 496.5h8m-4-4v8M248.5 503.5h8m-4-4v8M254.5 499.5h8m-4-4v8M260.5 499.5h8m-4-4v8M267.5 499.5h8m-4-4v8M273.5 499.5h8m-4-4v8M279.5 496.5h8m-4-4v8M285.5 494.5h8m-4-4v8M292.5 497.5h8m-4-4v8M298.5 494.5h8m-4-4v8M304.5 490.5h8m-4-4v8M310.5 486.5h8m-4-4v8M317.5 484.5h8m-4-4v8M323.5 488.5h8m-4-4v8M329.5 480.5h8m-4-4v8M335.5 477.5h8m-4-4v8M342.5 478.5h8m-4-4v8M348.5 479.5h8m-4-4v8M354.5 466.5h8m-4-4v8M360.5 480.5h8m-4-4v8M367.5 471.5h8m-4-4v8M373.5 464.5h8m-4-4v8M379.5 460.5h8m-4-4v8M385.5 462.5h8m-4-4v8M392.5 452.5h8m-4-4v8M398.5 453.5h8m-4-4v8M404.5 445.5h8m-4-4v8M410.5 432.5h8m-4-4v8M417.5 432.5h8m-4-4v8M423.5 415.5h8m-4-4v8M429.5 413.5h8m-4-4v8M435.5 387.5h8m-4-4v8M442.5 391.5h8m-4-4v8M448.5 386.5h8m-4-4v8M454.5 366.5h8m-4-4v8M460.5 357.5h8m-4-4v8M467.5 355.5h8m-4-4v8M473.5 319.5h8m-4-4v8M479.5 312.5h8m-4-4v8M485.5 283.5h8m-4-4v8M492.5 236.5h8m-4-4v8M496.5 228.5h8m-4-4v8M504.5 271.5h8m-4-4v8M509.5 211.5h8m-4-4v8M515.5 202.5h8m-4-4v8M521.5 176.5h8m-4-4v8M529.5 150.5h8m-4-4v8M533.5 196.5h8m-4-4v8M539.5 186.5h8m-4-4v8M546.5 191.5h8m-4-4v8M552.5 184.5h8m-4-4v8M558.5 179.5h8m-4-4v8M564.5 224.5h8m-4-4v8M570.5 205.5h8m-4-4v8M576.5 214.5h8m-4-4v8M582.5 233.5h8m-4-4v8M592.5 274.5h8m-4-4v8M600.5 271.5h8m-4-4v8M606.5 299.5h8m-4-4v8M610.5 329.5h8m-4-4v8M619.5 339.5h8m-4-4v8M623.5 331.5h8m-4-4v8M629.5 349.5h8m-4-4v8M635.5 371.5h8m-4-4v8M643.5 371.5h8m-4-4v8M650.5 384.5h8m-4-4v8M655.5 386.5h8m-4-4v8M663.5 412.5h8m-4-4v8M667.5 405.5h8m-4-4v8M673.5 414.5h8m-4-4v8M679.5 428.5h8m-4-4v8M685.5 430.5h8m-4-4v8M691.5 436.5h8m-4-4v8M698.5 457.5h8m-4-4v8M704.5 458.5h8m-4-4v8M710.5 469.5h8m-4-4v8M717.5 473.5h8m-4-4v8M723.5 477.5h8m-4-4v8M729.5 482.5h8m-4-4v8M735.5 482.5h8m-4-4v8M742.5 486.5h8m-4-4v8M748.5 492.5h8m-4-4v8M754.5 494.5h8m-4-4v8M760.5 496.5h8m-4-4v8M767.5 499.5h8m-4-4v8M773.5 492.5h8m-4-4v8M779.5 495.5h8m-4-4v8M785.5 494.5h8m-4-4v8M792.5 498.5h8m-4-4v8M798.5 495.5h8m-4-4v8M804.5 498.5h8m-4-4v8M810.5 498.5h8m-4-4v8M817.5 497.5h8m-4-4v8M823.5 492.5h8m-4-4v8M829.5 503.5h8m-4-4v8M835.5 499.5h8m-4-4v8M842.5 497.5h8m-4-4v8M848.5 499.5h8m-4-4v8M854.5 495.5h8m-4-4v8M860.5 499.5h8m-4-4v8M867.5 498.5h8m-4-4v8M873.5 493.5h8m-4-4v8M879.5 494.5h8m-4-4v8M885.5 498.5h8m-4-4v8M892.5 495.5h8m-4-4v8M898.5 496.5h8m-4-4v8M904.5 494.5h8m-4-4v8M910.5 498.5h8m-4-4v8M917.5 499.5h8m-4-4v8M923.5 496.5h8m-4-4v8M929.5 499.5h8m-4-4v8M935.5 500.5h8m-4-4v8M942.5 506.5h8m-4-4v8M948.5 499.5h8m-4-4v8M954.5 502.5h8m-4-4v8M960.5 502.5h8m-4-4v8M967.5 501.5h8m-4-4v8M973.5 499.5h8m-4-4v8M979.5 503.5h8m-4-4v8M985.5 502.5h8m-4-4v8M992.5 503.5h8m-4-4v8M998.5 505.5h8m-4-4v8" stroke="#7f7f7f" stroke-width="1.39"/>
<path d="M530.0 510.00V150.00" stroke="#7f7f7f" stroke-width="2.08" stroke-dasharray="7.71 3.33"/>
<path d="M526.5 506.5l8 8m0-8l-8 8M526.5 146.5l8 8m0-8l-8 8" stroke="#7f7f7f" stroke-width="1.39"/>
<path d="M77.5 509.5h8m-4-4v8M82.5 506.5h8m-4-4v8M87.5 506.5h8m-4-4v8M92.5 505.5h8m-4-4v8M98.5 507.5h8m-4-4v8M103.5 506.5h8m-4-4v8M108.5 508.5h8m-4-4v8M113.5 505.5h8m-4-4v8M118.5 506.5h8m-4-4v8M124.5 505.5h8m-4-4v8M129.5 505.5h8m-4-4v8M134.5 505.5h8m-4-4v8M139.5 504.5h8m-4-4v8M144.5 507.5h8m-4-4v8M149.5 505.5h8m-4-4v8M155.5 504.5h8m-4-4v8M160.5 505.5h8m-4-4v8M165.5 506.5h8m-4-4v8M170.5 505.5h8m-4-4v8M175.5 505.5h8m-4-4v8M181.5 508.5h8m-4-4v8M186.5 505.5h8m-4-4v8M191.5 506.5h8m-4-4v8M196.5 503.5h8m-4-4v8M201.5 505.5h8m-4-4v8M206.5 503.5h8m-4-4v8M212.5 503.5h8m-4-4v8M217.5 504.5h8m-4-4v8M222.5 504.5h8m-4-4v8M227.5 501.5h8m-4-4v8M232.5 503.5h8m-4-4v8M238.5 500.5h8m-4-4v8M243.5 502.5h8m-4-4v8M248.5 502.5h8m-4-4v8M253.5 503.5h8m-4-4v8M258.5 497.5h8m-4-4v8M263.5 499.5h8m-4-4v8M269.5 507.5h8m-4-4v8M274.5 496.5h8m-4-4v8M279.5 498.5h8m-4-4v8M284.5 498.5h8m-4-4v8M289.5 495.5h8m-4-4v8M294.5 496.5h8m-4-4v8M300.5 497.5h8m-4-4v8M305.5 492.5h8m-4-4v8M310.5 489.5h8m-4-4v8M315.5 493.5h8m-4-4v8M320.5 491.5h8m-4-4v8M326.5 487.5h8m-4-4v8M331.5 481.5h8m-4-4v8M336.5 483.5h8m-4-4v8M341.5 479.5h8m-4-4v8M347.5 465.5h8m-4-4v8M351.5 480.5h8m-4-4v8M357.5 479.5h8m-4-4v8M362.5 480.5h8m-4-4v8M367.5 474.5h8m-4-4v8M372.5 474.5h8m-4-4v8M380.5 442.5h8m-4-4v8M383.5 466.5h8m-4-4v8M388.5 454.5h8m-4-4v8M391.5 440.5h8m-4-4v8M398.5 455.5h8m-4-4v8M402.5 418.5h8m-4-4v8M407.5 412.5h8m-4-4v8M413.5 428.5h8m-4-4v8M419.5 437.5h8m-4-4v8M424.5 421.5h8m-4-4v8M429.5 353.5h8m-4-4v8M434.5 406.5h8m-4-4v8M440.5 396.5h8m-4-4v8M445.5 406.5h8m-4-4v8M450.5 397.5h8m-4-4v8M455.5 377.5h8m-4-4v8M460.5 360.5h8m-4-4v8M465.5 369.5h8m-4-4v8M471.5 321.5h8m-4-4v8M476.5 351.5h8m-4-4v8M481.5 317.5h8m-4-4v8M486.5 296.5h8m-4-4v8M491.5 296.5h8m-4-4v8M497.5 266.5h8m-4-4v8M502.5 261.5h8m-4-4v8M507.5 248.5h8m-4-4v8M512.5 250.5h8m-4-4v8M517.5 223.5h8m-4-4v8M522.5 225.5h8m-4-4v8M528.5 214.5h8m-4-4v8M533.5 236.5h8m-4-4v8M538.5 241.5h8m-4-4v8M543.5 220.5h8m-4-4v8M550.5 225.5h8m-4-4v8M555.5 253.5h8m-4-4v8M561.5 255.5h8m-4-4v8M564.5 248.5h8m-4-4v8M569.5 228.5h8m-4-4v8M574.5 288.5h8m-4-4v8M579.5 274.5h8m-4-4v8M585.5 293.5h8m-4-4v8M590.5 297.5h8m-4-4v8M595.5 345.5h8m-4-4v8M600.5 347.5h8m-4-4v8M605.5 345.5h8m-4-4v8M610.5 344.5h8m-4-4v8M616.5 373.5h8m-4-4v8M621.5 381.5h8m-4-4v8M626.5 380.5h8m-4-4v8M631.5 399.5h8m-4-4v8M636.5 410.5h8m-4-4v8M643.5 416.5h8m-4-4v8M647.5 406.5h8m-4-4v8M653.5 433.5h8m-4-4v8M658.5 421.5h8m-4-4v8M664.5 435.5h8m-4-4v8M667.5 431.5h8m-4-4v8M673.5 443.5h8m-4-4v8M678.5 452.5h8m-4-4v8M683.5 460.5h8m-4-4v8M688.5 446.5h8m-4-4v8M693.5 459.5h8m-4-4v8M699.5 475.5h8m-4-4v8M704.5 467.5h8m-4-4v8M709.5 473.5h8m-4-4v8M714.5 483.5h8m-4-4v8M719.5 474.5h8m-4-4v8M724.5 486.5h8m-4-4v8M730.5 483.5h8m-4-4v8M735.5 489.5h8m-4-4v8M740.5 485.5h8m-4-4v8M745.5 491.5h8m-4-4v8M750.5 495.5h8m-4-4v8M756.5 499.5h8m-4-4v8M761.5 491.5h8m-4-4v8M766.5 499.5h8m-4-4v8M771.5 497.5h8m-4-4v8M776.5 499.5h8m-4-4v8M781.5 499.5h8m-4-4v8M787.5 499.5h8m-4-4v8M792.5 499.5h8m-4-4v8M797.5 495.5h8m-4-4v8M802.5 498.5h8m-4-4v8M807.5 502.5h8m-4-4v8M812.5 497.5h8m-4-4v8M818.5 496.5h8m-4-4v8M823.5 501.5h8m-4-4v8M828.5 498.5h8m-4-4v8M833.5 499.5h8m-4-4v8M838.5 501.5h8m-4-4v8M844.5 498.5h8m-4-4v8M849.5 499.5h8m-4-4v8M854.5 499.5h8m-4-4v8M859.5 496.5h8m-4-4v8M864.5 503.5h8m-4-4v8M869.5 496.5h8m-4-4v8M875.5 501.5h8m-4-4v8M880.5 497.5h8m-4-4v8M885.5 503.5h8m-4-4v8M890.5 498.5h8m-4-4v8M895.5 498.5h8m-4-4v8M901.5 500.5h8m-4-4v8M906.5 500.5h8m-4-4v8M911.5 499.5h8m-4-4v8M916.5 500.5h8m-4-4v8M921.5 496.5h8m-4-4v8M926.5 502.5h8m-4-4v8M932.5 501.5h8m-4-4v8M937.5 502.5h8m-4-4v8M942.5 502.5h8m-4-4v8M947.5 500.5h8m-4-4v8M952.5 500.5h8m-4-4v8M958.5 503.5h8m-4-4v8M963.5 503.5h8m-4-4v8M968.5 501.5h8m-4-4v8M973.5 505.5h8m-4-4v8M978.5 504.5h8m-4-4v8M983.5 503.5h8m-4-4v8M989.5 505.5h8m-4-4v8M994.5 505.5h8m-4-4v8M999.5 505.5h8m-4-4v8" stroke="#bcbd22" stroke-width="1.39"/>
<path d="M529.0 510.00V214.00" stroke="#bcbd22" stroke-width="2.08" stroke-dasharray="7.71 3.33"/>
<path d="M525.5 506.5l8 8m0-8l-8 8M525.5 210.5l8 8m0-8l-8 8" stroke="#bcbd22" stroke-width="1.39"/>
<path d="M80.5 508.5h8m-4-4v8M86.5 508.5h8m-4-4v8M92.5 506.5h8m-4-4v8M97.5 506.5h8m-4-4v8M103.5 505.5h8m-4-4v8M109.5 504.5h8m-4-4v8M115.5 507.5h8m-4-4v8M121.5 506.5h8m-4-4v8M127.5 505.5h8m-4-4v8M133.5 505.5h8m-4-4v8M138.5 503.5h8m-4-4v8M144.5 506.5h8m-4-4v8M150.5 505.5h8m-4-4v8M156.5 506.5h8m-4-4v8M162.5 503.5h8m-4-4v8M168.5 503.5h8m-4-4v8M173.5 505.5h8m-4-4v8M179.5 504.5h8m-4-4v8M185.5 507.5h8m-4-4v8M191.5 505.5h8m-4-4v8M197.5 505.5h8m-4-4v8M203.5 509.5h8m-4-4v8M209.5 505.5h8m-4-4v8M214.5 504.5h8m-4-4v8M220.5 501.5h8m-4-4v8M226.5 505.5h8m-4-4v8M232.5 500.5h8m-4-4v8M238.5 502.5h8m-4-4v8M244.5 499.5h8m-4-4v8M250.5 498.5h8m-4-4v8M255.5 497.5h8m-4-4v8M261.5 499.5h8m-4-4v8M267.5 499.5h8m-4-4v8M273.5 494.5h8m-4-4v8M279.5 497.5h8m-4-4v8M285.5 497.5h8m-4-4v8M290.5 496.5h8m-4-4v8M296.5 493.5h8m-4-4v8M302.5 490.5h8m-4-4v8M308.5 487.5h8m-4-4v8M314.5 491.5h8m-4-4v8M320.5 485.5h8m-4-4v8M326.5 492.5h8m-4-4v8M331.5 485.5h8m-4-4v8M337.5 477.5h8m-4-4v8M343.5 481.5h8m-4-4v8M349.5 480.5h8m-4-4v8M355.5 483.5h8m-4-4v8M361.5 481.5h8m-4-4v8M367.5 477.5h8m-4-4v8M372.5 480.5h8m-4-4v8M378.5 467.5h8m-4-4v8M384.5 467.5h8m-4-4v8M390.5 467.5h8m-4-4v8M396.5 449.5h8m-4-4v8M402.5 452.5h8m-4-4v8M407.5 426.5h8m-4-4v8M413.5 445.5h8m-4-4v8M419.5 422.5h8m-4-4v8M425.5 402.5h8m-4-4v8M431.5 397.5h8m-4-4v8M437.5 414.5h8m-4-4v8M443.5 389.5h8m-4-4v8M448.5 379.5h8m-4-4v8M454.5 361.5h8m-4-4v8M460.5 358.5h8m-4-4v8M466.5 338.5h8m-4-4v8M472.5 310.5h8m-4-4v8M478.5 319.5h8m-4-4v8M484.5 282.5h8m-4-4v8M489.5 293.5h8m-4-4v8M495.5 263.5h8m-4-4v8M501.5 252.5h8m-4-4v8M507.5 211.5h8m-4-4v8M513.5 197.5h8m-4-4v8M520.5 184.5h8m-4-4v8M526.5 194.5h8m-4-4v8M532.5 199.5h8m-4-4v8M536.5 213.5h8m-4-4v8M542.5 161.5h8m-4-4v8M548.5 196.5h8m-4-4v8M553.5 230.5h8m-4-4v8M558.5 201.5h8m-4-4v8M563.5 230.5h8m-4-4v8M571.5 218.5h8m-4-4v8M577.5 256.5h8m-4-4v8M583.5 286.5h8m-4-4v8M589.5 277.5h8m-4-4v8M595.5 306.5h8m-4-4v8M601.5 298.5h8m-4-4v8M606.5 343.5h8m-4-4v8M612.5 345.5h8m-4-4v8M618.5 343.5h8m-4-4v8M624.5 366.5h8m-4-4v8M630.5 378.5h8m-4-4v8M636.5 365.5h8m-4-4v8M639.5 399.5h8m-4-4v8M645.5 414.5h8m-4-4v8M650.5 406.5h8m-4-4v8M657.5 426.5h8m-4-4v8M665.5 423.5h8m-4-4v8M671.5 427.5h8m-4-4v8M677.5 436.5h8m-4-4v8M682.5 444.5h8m-4-4v8M688.5 438.5h8m-4-4v8M694.5 462.5h8m-4-4v8M700.5 474.5h8m-4-4v8M706.5 466.5h8m-4-4v8M712.5 473.5h8m-4-4v8M718.5 482.5h8m-4-4v8M723.5 494.5h8m-4-4v8M729.5 480.5h8m-4-4v8M735.5 480.5h8m-4-4v8M741.5 491.5h8m-4-4v8M747.5 491.5h8m-4-4v8M753.5 491.5h8m-4-4v8M758.5 497.5h8m-4-4v8M764.5 493.5h8m-4-4v8M770.5 492.5h8m-4-4v8M776.5 494.5h8m-4-4v8M782.5 494.5h8m-4-4v8M788.5 491.5h8m-4-4v8M794.5 497.5h8m-4-4v8M799.5 499.5h8m-4-4v8M805.5 498.5h8m-4-4v8M811.5 498.5h8m-4-4v8M817.5 499.5h8m-4-4v8M823.5 499.5h8m-4-4v8M829.5 500.5h8m-4-4v8M835.5 495.5h8m-4-4v8M840.5 500.5h8m-4-4v8M846.5 499.5h8m-4-4v8M852.5 499.5h8m-4-4v8M858.5 495.5h8m-4-4v8M864.5 493.5h8m-4-4v8M870.5 499.5h8m-4-4v8M875.5 497.5h8m-4-4v8M881.5 494.5h8m-4-4v8M887.5 499.5h8m-4-4v8M893.5 500.5h8m-4-4v8M899.5 497.5h8m-4-4v8M905.5 499.5h8m-4-4v8M911.5 495.5h8m-4-4v8M916.5 497.5h8m-4-4v8M922.5 495.5h8m-4-4v8M928.5 499.5h8m-4-4v8M934.5 503.5h8m-4-4v8M940.5 500.5h8m-4-4v8M946.5 496.5h8m-4-4v8M952.5 505.5h8m-4-4v8M957.5 502.5h8m-4-4v8M963.5 499.5h8m-4-4v8M969.5 507.5h8m-4-4v8M975.5 502.5h8m-4-4v8M981.5 506.5h8m-4-4v8M987.5 504.5h8m-4-4v8M992.5 503.5h8m-4-4v8M998.5 505.5h8m-4-4v8" stroke="#17becf" stroke-width="1.39"/>
<path d="M541.0 510.00V161.00" stroke="#17becf" stroke-width="2.08" stroke-dasharray="7.71 3.33"/>
<path d="M537.5 506.5l8 8m0-8l-8 8M537.5 157.5l8 8m0-8l-8 8" stroke="#17becf" stroke-width="1.39"/>
<path d="M77.5 508.5h8m-4-4v8M83.5 509.5h8m-4-4v8M89.5 506.5h8m-4-4v8M94.5 506.5h8m-4-4v8M100.5 506.5h8m-4-4v8M106.5 508.5h8m-4-4v8M112.5 507.5h8m-4-4v8M117.5 507.5h8m-4-4v8M123.5 505.5h8m-4-4v8M129.5 506.5h8m-4-4v8M135.5 505.5h8m-4-4v8M140.5 500.5h8m-4-4v8M146.5 506.5h8m-4-4v8M152.5 503.5h8m-4-4v8M157.5 503.5h8m-4-4v8M163.5 505.5h8m-4-4v8M169.5 502.5h8m-4-4v8M175.5 507.5h8m-4-4v8M180.5 505.5h8m-4-4v8M186.5 504.5h8m-4-4v8M192.5 504.5h8m-4-4v8M198.5 504.5h8m-4-4v8M203.5 505.5h8m-4-4v8M209.5 501.5h8m-4-4v8M215.5 503.5h8m-4-4v8M221.5 500.5h8m-4-4v8M226.5 502.5h8m-4-4v8M232.5 504.5h8m-4-4v8M238.5 507.5h8m-4-4v8M243.5 502.5h8m-4-4v8M249.5 501.5h8m-4-4v8M255.5 504.5h8m-4-4v8M261.5 500.5h8m-4-4v8M266.5 502.5h8m-4-4v8M272.5 499.5h8m-4-4v8M278.5 500.5h8m-4-4v8M284.5 494.5h8m-4-4v8M289.5 497.5h8m-4-4v8M295.5 493.5h8m-4-4v8M301.5 497.5h8m-4-4v8M306.5 495.5h8m-4-4v8M312.5 490.5h8m-4-4v8M318.5 493.5h8m-4-4v8M324.5 490.5h8m-4-4v8M329.5 491.5h8m-4-4v8M335.5 492.5h8m-4-4v8M341.5 483.5h8m-4-4v8M347.5 480.5h8m-4-4v8M352.5 482.5h8m-4-4v8M358.5 469.5h8m-4-4v8M364.5 475.5h8m-4-4v8M370.5 475.5h8m-4-4v8M375.5 480.5h8m-4-4v8M381.5 483.5h8m-4-4v8M387.5 465.5h8m-4-4v8M392.5 460.5h8m-4-4v8M397.5 469.5h8m-4-4v8M404.5 462.5h8m-4-4v8M410.5 463.5h8m-4-4v8M415.5 452.5h8m-4-4v8M419.5 439.5h8m-4-4v8M427.5 424.5h8m-4-4v8M433.5 418.5h8m-4-4v8M438.5 407.5h8m-4-4v8M444.5 404.5h8m-4-4v8M450.5 414.5h8m-4-4v8M455.5 385.5h8m-4-4v8M461.5 382.5h8m-4-4v8M467.5 390.5h8m-4-4v8M473.5 347.5h8m-4-4v8M478.5 368.5h8m-4-4v8M484.5 317.5h8m-4-4v8M490.5 315.5h8m-4-4v8M496.5 299.5h8m-4-4v8M501.5 282.5h8m-4-4v8M507.5 255.5h8m-4-4v8M513.5 239.5h8m-4-4v8M518.5 210.5h8m-4-4v8M524.5 212.5h8m-4-4v8M530.5 197.5h8m-4-4v8M536.5 224.5h8m-4-4v8M541.5 208.5h8m-4-4v8M547.5 201.5h8m-4-4v8M553.5 184.5h8m-4-4v8M555.5 182.5h8m-4-4v8M560.5 250.5h8m-4-4v8M570.5 236.5h8m-4-4v8M576.5 232.5h8m-4-4v8M582.5 255.5h8m-4-4v8M586.5 274.5h8m-4-4v8M593.5 261.5h8m-4-4v8M599.5 269.5h8m-4-4v8M604.5 296.5h8m-4-4v8M610.5 288.5h8m-4-4v8M616.5 308.5h8m-4-4v8M622.5 335.5h8m-4-4v8M627.5 346.5h8m-4-4v8M633.5 344.5h8m-4-4v8M639.5 358.5h8m-4-4v8M647.5 396.5h8m-4-4v8M651.5 384.5h8m-4-4v8M658.5 388.5h8m-4-4v8M662.5 406.5h8m-4-4v8M667.5 411.5h8m-4-4v8M673.5 425.5h8m-4-4v8M679.5 402.5h8m-4-4v8M685.5 429.5h8m-4-4v8M689.5 432.5h8m-4-4v8M696.5 446.5h8m-4-4v8M702.5 454.5h8m-4-4v8M708.5 451.5h8m-4-4v8M713.5 462.5h8m-4-4v8M719.5 470.5h8m-4-4v8M725.5 477.5h8m-4-4v8M730.5 475.5h8m-4-4v8M736.5 478.5h8m-4-4v8M742.5 489.5h8m-4-4v8M748.5 486.5h8m-4-4v8M753.5 496.5h8m-4-4v8M759.5 489.5h8m-4-4v8M765.5 488.5h8m-4-4v8M771.5 492.5h8m-4-4v8M776.5 505.5h8m-4-4v8M782.5 502.5h8m-4-4v8M788.5 498.5h8m-4-4v8M794.5 497.5h8m-4-4v8M799.5 500.5h8m-4-4v8M805.5 501.5h8m-4-4v8M811.5 497.5h8m-4-4v8M816.5 503.5h8m-4-4v8M822.5 494.5h8m-4-4v8M828.5 496.5h8m-4-4v8M834.5 497.5h8m-4-4v8M839.5 497.5h8m-4-4v8M845.5 499.5h8m-4-4v8M851.5 498.5h8m-4-4v8M857.5 498.5h8m-4-4v8M862.5 492.5h8m-4-4v8M868.5 497.5h8m-4-4v8M874.5 497.5h8m-4-4v8M879.5 499.5h8m-4-4v8M885.5 496.5h8m-4-4v8M891.5 495.5h8m-4-4v8M897.5 500.5h8m-4-4v8M902.5 493.5h8m-4-4v8M908.5 499.5h8m-4-4v8M914.5 499.5h8m-4-4v8M920.5 499.5h8m-4-4v8M925.5 497.5h8m-4-4v8M931.5 495.5h8m-4-4v8M937.5 499.5h8m-4-4v8M943.5 499.5h8m-4-4v8M948.5 499.5h8m-4-4v8M954.5 495.5h8m-4-4v8M960.5 497.5h8m-4-4v8M965.5 501.5h8m-4-4v8M971.5 505.5h8m-4-4v8M977.5 505.5h8m-4-4v8M983.5 503.5h8m-4-4v8M988.5 507.5h8m-4-4v8M994.5 503.5h8m-4-4v8M1000.5 505.5h8m-4-4v8" stroke="#1f77b4" stroke-width="1.39"/>
<path d="M554.0 510.00V184.00" stroke="#1f77b4" stroke-width="2.08" stroke-dasharray="7.71 3.33"/>
<path d="M550.5 506.5l8 8m0-8l-8 8M550.5 180.5l8 8m0-8l-8 8" stroke="#1f77b4" stroke-width="1.39"/>
<path d="M76.5 507.5h8m-4-4v8M83.5 507.5h8m-4-4v8M90.5 506.5h8m-4-4v8M97.5 507.5h8m-4-4v8M104.5 505.5h8m-4-4v8M111.5 505.5h8m-4-4v8M118.5 505.5h8m-4-4v8M125.5 507.5h8m-4-4v8M131.5 505.5h8m-4-4v8M138.5 506.5h8m-4-4v8M145.5 506.5h8m-4-4v8M152.5 506.5h8m-4-4v8M159.5 502.5h8m-4-4v8M166.5 504.5h8m-4-4v8M173.5 506.5h8m-4-4v8M180.5 505.5h8m-4-4v8M187.5 505.5h8m-4-4v8M194.5 502.5h8m-4-4v8M200.5 504.5h8m-4-4v8M207.5 503.5h8m-4-4v8M214.5 502.5h8m-4-4v8M221.5 498.5h8m-4-4v8M228.5 502.5h8m-4-4v8M235.5 500.5h8m-4-4v8M242.5 498.5h8m-4-4v8M249.5 500.5h8m-4-4v8M256.5 499.5h8m-4-4v8M263.5 503.5h8m-4-4v8M269.5 500.5h8m-4-4v8M276.5 486.5h8m-4-4v8M283.5 497.5h8m-4-4v8M290.5 496.5h8m-4-4v8M297.5 495.5h8m-4-4v8M304.5 486.5h8m-4-4v8M311.5 490.5h8m-4-4v8M318.5 486.5h8m-4-4v8M325.5 486.5h8m-4-4v8M332.5 480.5h8m-4-4v8M338.5 477.5h8m-4-4v8M345.5 473.5h8m-4-4v8M352.5 480.5h8m-4-4v8M359.5 457.5h8m-4-4v8M366.5 454.5h8m-4-4v8M373.5 472.5h8m-4-4v8M380.5 465.5h8m-4-4v8M387.5 449.5h8m-4-4v8M394.5 450.5h8m-4-4v8M401.5 438.5h8m-4-4v8M407.5 425.5h8m-4-4v8M414.5 436.5h8m-4-4v8M421.5 415.5h8m-4-4v8M428.5 396.5h8m-4-4v8M435.5 390.5h8m-4-4v8M442.5 383.5h8m-4-4v8M449.5 365.5h8m-4-4v8M456.5 345.5h8m-4-4v8M463.5 331.5h8m-4-4v8M470.5 303.5h8m-4-4v8M476.5 293.5h8m-4-4v8M483.5 282.5h8m-4-4v8M490.5 268.5h8m-4-4v8M496.5 232.5h8m-4-4v8M503.5 223.5h8m-4-4v8M510.5 187.5h8m-4-4v8M517.5 163.5h8m-4-4v8M524.5 144.5h8m-4-4v8M531.5 149.5h8m-4-4v8M537.5 135.5h8m-4-4v8M545.5 116.5h8m-4-4v8M551.5 148.5h8m-4-4v8M558.5 130.5h8m-4-4v8M565.5 144.5h8m-4-4v8M572.5 168.5h8m-4-4v8M580.5 182.5h8m-4-4v8M586.5 182.5h8m-4-4v8M593.5 196.5h8m-4-4v8M599.5 266.5h8m-4-4v8M606.5 254.5h8m-4-4v8M613.5 284.5h8m-4-4v8M620.5 316.5h8m-4-4v8M627.5 342.5h8m-4-4v8M635.5 313.5h8m-4-4v8M642.5 341.5h8m-4-4v8M648.5 373.5h8m-4-4v8M654.5 348.5h8m-4-4v8M661.5 375.5h8m-4-4v8M668.5 388.5h8m-4-4v8M675.5 382.5h8m-4-4v8M682.5 405.5h8m-4-4v8M689.5 422.5h8m-4-4v8M696.5 428.5h8m-4-4v8M704.5 445.5h8m-4-4v8M711.5 464.5h8m-4-4v8M718.5 460.5h8m-4-4v8M725.5 480.5h8m-4-4v8M732.5 471.5h8m-4-4v8M739.5 484.5h8m-4-4v8M746.5 481.5h8m-4-4v8M752.5 491.5h8m-4-4v8M759.5 487.5h8m-4-4v8M766.5 500.5h8m-4-4v8M773.5 492.5h8m-4-4v8M780.5 492.5h8m-4-4v8M787.5 494.5h8m-4-4v8M794.5 487.5h8m-4-4v8M801.5 495.5h8m-4-4v8M808.5 498.5h8m-4-4v8M815.5 494.5h8m-4-4v8M821.5 492.5h8m-4-4v8M828.5 499.5h8m-4-4v8M835.5 500.5h8m-4-4v8M842.5 495.5h8m-4-4v8M849.5 496.5h8m-4-4v8M856.5 494.5h8m-4-4v8M863.5 493.5h8m-4-4v8M870.5 497.5h8m-4-4v8M877.5 500.5h8m-4-4v8M884.5 489.5h8m-4-4v8M890.5 498.5h8m-4-4v8M897.5 495.5h8m-4-4v8M904.5 493.5h8m-4-4v8M911.5 498.5h8m-4-4v8M918.5 496.5h8m-4-4v8M925.5 495.5h8m-4-4v8M932.5 501.5h8m-4-4v8M939.5 496.5h8m-4-4v8M946.5 500.5h8m-4-4v8M953.5 498.5h8m-4-4v8M959.5 503.5h8m-4-4v8M966.5 503.5h8m-4-4v8M973.5 501.5h8m-4-4v8M980.5 502.5h8m-4-4v8M987.5 500.5h8m-4-4v8M994.5 505.5h8m-4-4v8M1001.5 502.5h8m-4-4v8" stroke="#ff7f0e" stroke-width="1.39"/>
<path d="M546.0 510.00V116.00" stroke="#ff7f0e" stroke-width="2.08" stroke-dasharray="7.71 3.33"/>
<path d="M542.5 506.5l8 8m0-8l-8 8M542.5 112.5l8 8m0-8l-8 8" stroke="#ff7f0e" stroke-width="1.39"/>
</g>
<g stroke="#000" fill="none">
<path d="M208.5 533V537.5M438.5 533V537.5M667.5 533V537.5M896.5 533V537.5" stroke-width="1.11"/>
<path d="M89.5 533V535.5M117.5 533V535.5M139.5 533V535.5M158.5 533V535.5M173.5 533V535.5M186.5 533V535.5M198.5 533V535.5M277.5 533V535.5M318.5 533V535.5M346.5 533V535.5M369.5 533V535.5M387.5 533V535.5M402.5 533V535.5M415.5 533V535.5M427.5 533V535.5M507.5 533V535.5M547.5 533V535.5M575.5 533V535.5M598.5 533V535.5M616.5 533V535.5M631.5 533V535.5M644.5 533V535.5M656.5 533V535.5M736.5 533V535.5M776.5 533V535.5M805.5 533V535.5M827.5 533V535.5M845.5 533V535.5M860.5 533V535.5M874.5 533V535.5M885.5 533V535.5M965.5 533V535.5" stroke-width="0.83"/>
<path d="M80.5 77.5H85M80.5 164.5H85M80.5 250.5H85M80.5 337.5H85M80.5 423.5H85M80.5 510.5H85" stroke-width="1.11"/>
<rect x="85.5" y="37.5" width="917" height="495" stroke-width="1.11"/>
</g>
<rect x="753.5" y="47.5" width="238" height="371" rx="4.2" ry="4.2" fill="#fff" fill-opacity="0.8" stroke="#ccc" stroke-opacity="0.8" stroke-width="1.39"/>
<g fill="none" stroke-width="1.39" stroke-opacity="0.8">
<path d="M778.5 64.5h8m-4-4v8" stroke="#1f77b4"/>
<path d="M778.5 95.5h8m-4-4v8" stroke="#ff7f0e"/>
<path d="M778.5 125.5h8m-4-4v8" stroke="#2ca02c"/>
<path d="M778.5 155.5h8m-4-4v8" stroke="#d62728"/>
<path d="M778.5 186.5h8m-4-4v8" stroke="#9467bd"/>
<path d="M778.5 216.5h8m-4-4v8" stroke="#8c564b"/>
<path d="M778.5 247.5h8m-4-4v8" stroke="#e377c2"/>
<path d="M778.5 277.5h8m-4-4v8" stroke="#7f7f7f"/>
<path d="M778.5 307.5h8m-4-4v8" stroke="#bcbd22"/>
<path d="M778.5 338.5h8m-4-4v8" stroke="#17becf"/>
<path d="M778.5 368.5h8m-4-4v8" stroke="#1f77b4"/>
<path d="M778.5 399.5h8m-4-4v8" stroke="#ff7f0e"/>
</g>
<g>
<text transform="matrix(1.0973 0.0006 0 1.0000 344.531 28.750)" style="font-family:'Liberation Sans',sans-serif;font-size:26px">Histogram for each observation</text>
<text transform="matrix(1.0495 0.0006 0 1.0000 459.688 594.750)" style="font-family:'Liberation Sans',sans-serif;font-size:22.5px">Count rate [</text>
<text transform="matrix(0.9302 0.0006 0 0.9796 585.000 594.755)" style="font-family:'Liberation Sans',sans-serif;font-size:22.5px;font-style:italic">s</text>
<text transform="matrix(1.2000 0.0006 0 1.0400 598.100 587.980)" style="font-family:'Liberation Sans',sans-serif;font-size:15.5px">−</text>
<text transform="matrix(0.9231 0.0006 0 1.1163 609.846 587.000)" style="font-family:'Liberation Sans',sans-serif;font-size:15.5px">1</text>
<text transform="matrix(0.8889 0.0006 0 0.9048 620.778 593.702)" style="font-family:'Liberation Sans',sans-serif;font-size:22.5px">]</text>
<text transform="rotate(-90) matrix(1.0554 0.0006 0 0.9697 -406.847 24.758)" style="font-family:'Liberation Sans',sans-serif;font-size:22.5px">Number of pixels in bin</text>
<text transform="matrix(1.0476 0.0006 0 1.0000 61.952 517.750)" style="font-family:'Liberation Sans',sans-serif;font-size:22.5px">0</text>
<text transform="matrix(1.0072 0.0006 0 1.0000 36.237 431.750)" style="font-family:'Liberation Sans',sans-serif;font-size:22.5px">100</text>
<text transform="matrix(1.0213 0.0006 0 1.0000 35.723 344.750)" style="font-family:'Liberation Sans',sans-serif;font-size:22.5px">200</text>
<text transform="matrix(0.9859 0.0006 0 1.0000 37.014 258.750)" style="font-family:'Liberation Sans',sans-serif;font-size:22.5px">300</text>
<text transform="matrix(1.0278 0.0006 0 1.0000 36.486 171.750)" style="font-family:'Liberation Sans',sans-serif;font-size:22.5px">400</text>
<text transform="matrix(0.9859 0.0006 0 1.0000 37.014 85.750)" style="font-family:'Liberation Sans',sans-serif;font-size:22.5px">500</text>
<text transform="matrix(1.0337 0.0006 0 1.0000 185.191 562.750)" style="font-family:'Liberation Sans',sans-serif;font-size:22.5px">10</text>
<text transform="matrix(1.2000 0.0006 0 1.0400 212.100 555.980)" style="font-family:'Liberation Sans',sans-serif;font-size:15.5px">−</text>
<text transform="matrix(0.8750 0.0006 0 1.1163 224.781 555.000)" style="font-family:'Liberation Sans',sans-serif;font-size:15.5px">4</text>
<text transform="matrix(1.0337 0.0006 0 1.0000 414.191 562.750)" style="font-family:'Liberation Sans',sans-serif;font-size:22.5px">10</text>
<text transform="matrix(1.2000 0.0006 0 1.0400 441.100 555.980)" style="font-family:'Liberation Sans',sans-serif;font-size:15.5px">−</text>
<text transform="matrix(0.9333 0.0006 0 1.1163 453.533 555.000)" style="font-family:'Liberation Sans',sans-serif;font-size:15.5px">3</text>
<text transform="matrix(1.0337 0.0006 0 1.0000 643.191 562.750)" style="font-family:'Liberation Sans',sans-serif;font-size:22.5px">10</text>
<text transform="matrix(1.2000 0.0006 0 1.0400 670.100 555.980)" style="font-family:'Liberation Sans',sans-serif;font-size:15.5px">−</text>
<text transform="matrix(1.0000 0.0006 0 1.1163 682.250 555.000)" style="font-family:'Liberation Sans',sans-serif;font-size:15.5px">2</text>
<text transform="matrix(1.0337 0.0006 0 1.0000 872.191 562.750)" style="font-family:'Liberation Sans',sans-serif;font-size:22.5px">10</text>
<text transform="matrix(1.2000 0.0006 0 1.0400 899.100 555.980)" style="font-family:'Liberation Sans',sans-serif;font-size:15.5px">−</text>
<text transform="matrix(0.9231 0.0006 0 1.1163 911.846 555.000)" style="font-family:'Liberation Sans',sans-serif;font-size:15.5px">1</text>
<text transform="matrix(0.9953 0.0006 0 1.0000 819.258 71.750)" style="font-family:'Liberation Sans',sans-serif;font-size:22.5px">POL120 (Obs 1)</text>
<text transform="matrix(0.9953 0.0006 0 1.0000 819.258 101.750)" style="font-family:'Liberation Sans',sans-serif;font-size:22.5px">POL120 (Obs 2)</text>
<text transform="matrix(0.9797 0.0006 0 1.0000 819.285 132.750)" style="font-family:'Liberation Sans',sans-serif;font-size:22.5px">POL0 (Obs 1)</text>
<text transform="matrix(0.9797 0.0006 0 1.0000 819.285 162.750)" style="font-family:'Liberation Sans',sans-serif;font-size:22.5px">POL0 (Obs 2)</text>
<text transform="matrix(0.9916 0.0006 0 1.0000 819.265 193.750)" style="font-family:'Liberation Sans',sans-serif;font-size:22.5px">POL60 (Obs 1)</text>
<text transform="matrix(0.9916 0.0006 0 1.0000 819.265 223.750)" style="font-family:'Liberation Sans',sans-serif;font-size:22.5px">POL60 (Obs 2)</text>
<text transform="matrix(0.9953 0.0006 0 1.0000 819.258 254.750)" style="font-family:'Liberation Sans',sans-serif;font-size:22.5px">POL120 (Obs 3)</text>
<text transform="matrix(0.9953 0.0006 0 1.0000 819.258 284.750)" style="font-family:'Liberation Sans',sans-serif;font-size:22.5px">POL120 (Obs 4)</text>
<text transform="matrix(0.9797 0.0006 0 1.0000 819.285 314.750)" style="font-family:'Liberation Sans',sans-serif;font-size:22.5px">POL0 (Obs 3)</text>
<text transform="matrix(0.9797 0.0006 0 1.0000 819.285 345.750)" style="font-family:'Liberation Sans',sans-serif;font-size:22.5px">POL0 (Obs 4)</text>
<text transform="matrix(0.9916 0.0006 0 1.0000 819.265 375.750)" style="font-family:'Liberation Sans',sans-serif;font-size:22.5px">POL60 (Obs 3)</text>
<text transform="matrix(0.9916 0.0006 0 1.0000 819.265 406.750)" style="font-family:'Liberation Sans',sans-serif;font-size:22.5px">POL60 (Obs 4)</text>
</g>
</svg>
</body></html>
